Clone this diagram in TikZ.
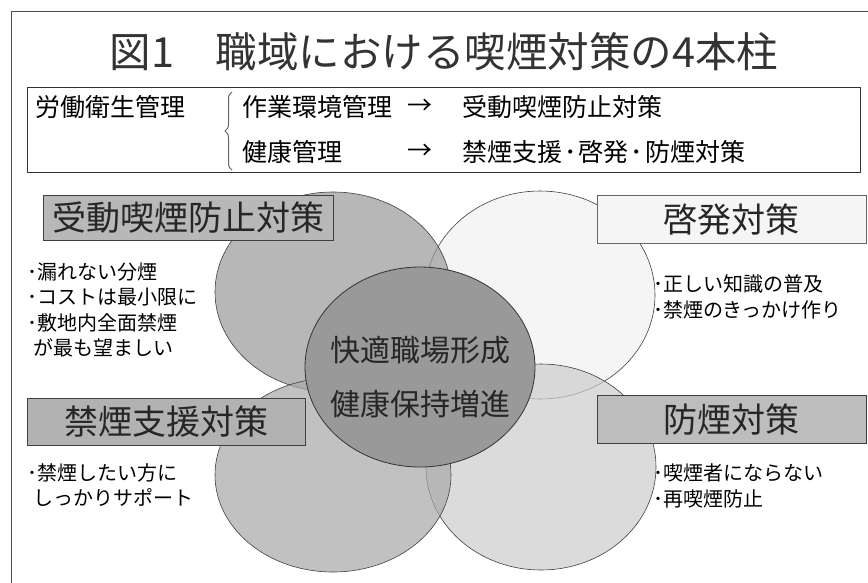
\documentclass[tikz,border=0pt]{standalone}
\usepackage{fontspec}
\setmainfont{Noto Sans CJK JP}
\usetikzlibrary{shapes.geometric,decorations.pathreplacing}
\begin{document}
\begin{tikzpicture}[x=1pt,y=-1pt,
  venn/.style={ellipse, draw=black!75, line width=0.6pt, inner sep=0pt, fill opacity=0.7, text opacity=1},
  labelbox/.style={draw=black!75, line width=0.8pt, inner sep=0pt, text=black!85, font=\fontsize{34}{36}\selectfont},
  bullet/.style={anchor=west, inner sep=0pt, align=left, font=\fontsize{20}{25.5}\selectfont},
  subtxt/.style={anchor=west, inner sep=0pt, font=\fontsize{25}{27}\selectfont},
]
\useasboundingbox (0,0) rectangle (868,582);
\clip (0,0) rectangle (868,582);
\fill[white] (0,0) rectangle (868,582);
% outer frame (its right and bottom edges lie outside the picture)
\draw[black!70, line width=0.8pt] (11,11) rectangle (900,620);

% title
\node[inner sep=0pt, font=\fontsize{41.5}{44}\selectfont, text=black!80] (title) at (444,52) {図1　職域における喫煙対策の4本柱};

% management box
\node[draw=black!80, line width=0.8pt, minimum width=833pt, minimum height=85pt, anchor=north west, inner sep=0pt] (subbox) at (27,87) {};
\node[subtxt] (rodo) at (35,107) {労働衛生管理};
\draw[black!60, line width=1pt, decorate, decoration={brace, amplitude=7pt}] (232,170) -- (232,92);
\node[subtxt] (sagyo) at (242,107) {作業環境管理};
\node[subtxt] (arrA) at (407,107) {→};
\node[subtxt] (judoA) at (462,107) {受動喫煙防止対策};
\node[subtxt] (kenko) at (242,152) {健康管理};
\node[subtxt] (arrB) at (407,152) {→};
\node[subtxt] (kinA) at (462,152) {禁煙支援\hspace{2pt}･\hspace{2pt}啓発\hspace{2pt}･\hspace{2pt}防煙対策};

% four circles
\node[venn, fill=black!5, minimum width=230pt, minimum height=208pt] (tr) at (540,295) {};
\node[venn, fill=black!40, minimum width=236pt, minimum height=200pt] (tl) at (333,292) {};
\node[venn, fill=black!20, minimum width=230pt, minimum height=206pt] (br) at (541,467) {};
\node[venn, fill=black!34, minimum width=236pt, minimum height=194pt] (bl) at (333,475) {};
% centre
\node[ellipse, draw=black!80, line width=0.8pt, fill=black!40, inner sep=0pt, minimum width=230pt, minimum height=200pt] (ctr) at (420,367) {};
\node[inner sep=0pt, text=black!85, font=\fontsize{30}{32}\selectfont] (ctrA) at (420,350) {快適職場形成};
\node[inner sep=0pt, text=black!85, font=\fontsize{30}{32}\selectfont] (ctrB) at (420,404) {健康保持増進};

% label boxes
\node[labelbox, fill=black!28, minimum width=290pt, minimum height=45pt, anchor=north west] (lbTL) at (43,195) {受動喫煙防止対策};
\node[labelbox, fill=black!4, draw=black!60, minimum width=269pt, minimum height=48pt, anchor=north west] (lbTR) at (597,195) {啓発対策};
\node[labelbox, fill=black!30, minimum width=278pt, minimum height=47pt, anchor=north west] (lbBL) at (27,398) {禁煙支援対策};
\node[labelbox, fill=black!26, minimum width=269pt, minimum height=48pt, anchor=north west] (lbBR) at (597,395) {防煙対策};

% bullet texts
\node[bullet] (bTL) at (27,310) {･漏れない分煙\\･コストは最小限に\\･敷地内全面禁煙\\\hspace{6pt}が最も望ましい};
\node[bullet] (bTR) at (653,297) {･正しい知識の普及\\･禁煙のきっかけ作り};
\node[bullet] (bBL) at (27,485) {･禁煙したい方に\\\hspace{6pt}しっかりサポート};
\node[bullet] (bBR) at (653,486) {･喫煙者にならない\\･再喫煙防止};
\end{tikzpicture}
\end{document}
